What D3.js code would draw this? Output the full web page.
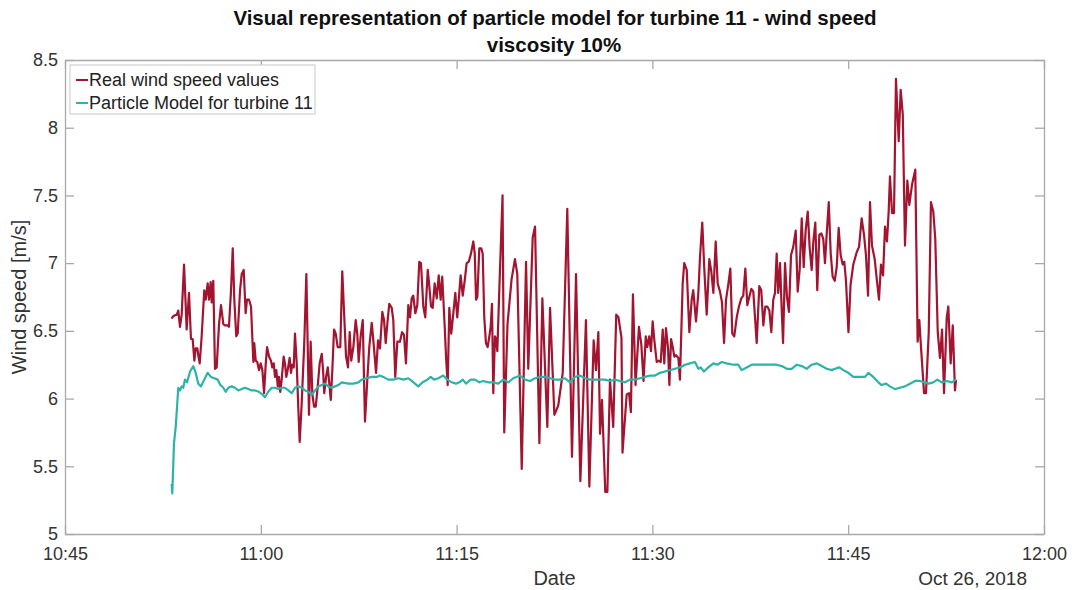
<!DOCTYPE html>
<html>
<head>
<meta charset="utf-8">
<script src="https://cdn.jsdelivr.net/npm/d3@7"></script>
<style>
  html, body { margin: 0; padding: 0; background: #fff; }
  svg { display: block; font-family: Arial, "Liberation Sans", Helvetica, sans-serif; }
</style>
</head>
<body>
<svg id="chart" width="1074" height="590"></svg>
<script>
// Measured wind speed (minutes after 10:45, m/s)
const realMinutes = [
  8.17, 8.30, 8.56, 8.68, 8.81, 8.94, 9.12, 9.32, 9.50, 9.65, 9.78, 9.91, 10.01, 10.14, 10.21, 10.32,
  10.47, 10.67, 10.78, 10.93, 11.03, 11.16, 11.24, 11.36, 11.49, 11.62, 11.80, 11.95, 12.13, 12.26, 12.46, 12.56,
  12.72, 12.85, 12.97, 13.12, 13.23, 13.41, 13.54, 13.69, 13.84, 13.94, 14.10, 14.25, 14.43, 14.50, 14.61, 14.73,
  14.86, 14.99, 15.12, 15.25, 15.38, 15.48, 15.63, 15.78, 15.88, 15.99, 16.09, 16.19, 16.30, 16.39, 16.49, 16.60,
  16.75, 16.85, 16.95, 17.06, 17.21, 17.31, 17.41, 17.52, 17.62, 17.75, 17.87, 17.98, 18.13, 18.33, 18.49, 18.59,
  18.69, 18.82, 18.95, 19.08, 19.21, 19.36, 19.51, 19.67, 19.77, 19.86, 20.00, 20.13, 20.25, 20.36, 20.48, 20.61,
  20.74, 20.89, 21.09, 21.24, 21.53, 21.68, 21.81, 21.93, 22.09, 22.27, 22.39, 22.50, 22.65, 22.81, 22.98, 23.16,
  23.31, 23.50, 23.62, 23.83, 23.98, 24.13, 24.31, 24.44, 24.57, 24.69, 24.84, 25.03, 25.15, 25.30, 25.46, 25.66,
  25.82, 25.97, 26.12, 26.30, 26.43, 26.56, 26.68, 26.84, 26.99, 27.14, 27.27, 27.45, 27.60, 27.79, 27.91, 28.04,
  28.17, 28.32, 28.48, 28.63, 28.78, 28.90, 29.09, 29.19, 29.32, 29.44, 29.59, 29.75, 29.90, 30.05, 30.18, 30.31,
  30.47, 30.62, 30.77, 30.93, 31.10, 31.28, 31.39, 31.49, 31.59, 31.74, 31.89, 32.00, 32.12, 32.25, 32.38, 32.51,
  32.61, 32.71, 32.81, 32.94, 33.02, 33.12, 33.27, 33.42, 33.52, 33.65, 33.90, 34.21, 34.47, 34.65, 34.99, 35.32,
  35.49, 35.83, 36.01, 36.34, 36.57, 36.95, 37.16, 37.49, 37.79, 38.13, 38.48, 38.84, 39.15, 39.48, 39.91, 40.17,
  40.50, 40.68, 40.86, 40.99, 41.14, 41.39, 41.55, 41.75, 42.00, 42.23, 42.40, 42.63, 42.71, 43.03, 43.21, 43.35,
  43.51, 43.71, 43.97, 44.15, 44.32, 44.49, 44.61, 44.76, 44.89, 45.02, 45.15, 45.33, 45.48, 45.64, 45.79, 45.91,
  46.04, 46.20, 46.30, 46.43, 46.56, 46.68, 46.81, 46.99, 47.11, 47.32, 47.44, 47.63, 47.83, 48.01, 48.13, 48.34,
  48.52, 48.65, 48.82, 48.98, 49.16, 49.36, 49.51, 49.67, 49.85, 50.00, 50.18, 50.33, 50.49, 50.64, 50.81, 50.97,
  51.12, 51.27, 51.46, 51.63, 51.81, 51.96, 52.12, 52.27, 52.42, 52.58, 52.73, 52.99, 53.19, 53.34, 53.50, 53.65,
  53.80, 53.96, 54.11, 54.26, 54.39, 54.52, 54.64, 54.78, 54.87, 55.01, 55.16, 55.31, 55.46, 55.62, 55.79, 55.98,
  56.13, 56.28, 56.44, 56.59, 56.74, 56.90, 57.05, 57.20, 57.33, 57.48, 57.63, 57.79, 57.94, 58.09, 58.22, 58.35,
  58.51, 58.66, 58.81, 58.97, 59.12, 59.27, 59.42, 59.58, 59.70, 59.83, 60.02, 60.18, 60.39, 60.65, 60.83, 61.03,
  61.21, 61.36, 61.52, 61.67, 61.82, 62.03, 62.18, 62.36, 62.51, 62.67, 62.82, 62.97, 63.10, 63.20, 63.36, 63.51,
  63.66, 63.87, 64.02, 64.18, 64.35, 64.53, 64.68, 64.89, 65.14, 65.32, 65.45, 65.55, 65.81, 65.96, 66.17, 66.34,
  66.52, 66.67, 66.86, 67.03, 67.19, 67.34, 67.55, 67.67, 67.85, 68.01, 68.18, 68.26
];
const realSpeed = [
  6.59, 6.61, 6.62, 6.65, 6.53, 6.62, 6.99, 6.51, 6.78, 6.44, 6.44, 6.28, 6.37, 6.37, 6.32, 6.26,
  6.46, 6.80, 6.73, 6.85, 6.73, 6.86, 6.71, 6.87, 6.22, 6.23, 6.55, 6.69, 6.55, 6.54, 6.54, 6.53,
  6.80, 7.11, 6.73, 6.46, 6.48, 6.80, 6.92, 6.95, 6.63, 6.73, 6.73, 6.68, 6.27, 6.41, 6.28, 6.27,
  6.21, 6.26, 6.21, 6.04, 6.26, 6.38, 6.31, 6.28, 6.23, 6.26, 6.16, 6.21, 6.09, 6.16, 6.05, 6.14,
  6.31, 6.26, 6.16, 6.21, 6.30, 6.19, 6.25, 6.23, 6.48, 6.26, 5.94, 5.68, 5.96, 6.41, 6.92, 6.41,
  5.88, 6.42, 6.03, 5.94, 5.94, 6.09, 6.26, 6.33, 6.21, 6.04, 6.16, 6.23, 6.11, 5.99, 6.21, 6.51,
  6.48, 6.38, 6.38, 6.94, 6.31, 6.23, 6.49, 6.28, 6.38, 6.58, 6.48, 6.27, 6.46, 6.58, 5.83, 6.14,
  6.38, 6.56, 6.43, 6.19, 6.43, 6.37, 6.64, 6.58, 6.41, 6.55, 6.70, 6.67, 6.58, 6.16, 6.42, 6.42,
  6.49, 6.47, 6.26, 6.69, 6.60, 6.74, 6.76, 6.63, 6.69, 7.01, 7.00, 6.68, 6.60, 6.95, 6.83, 6.68,
  6.67, 6.85, 6.74, 6.91, 6.73, 6.90, 6.53, 6.31, 6.10, 6.67, 6.48, 6.63, 6.78, 6.60, 6.75, 6.91,
  6.76, 6.87, 7.00, 7.01, 7.07, 7.16, 7.07, 6.73, 6.75, 7.11, 7.11, 7.07, 6.60, 6.41, 6.38, 6.46,
  6.53, 6.70, 6.04, 6.46, 6.44, 6.35, 6.80, 7.22, 7.50, 5.75, 6.55, 6.88, 7.03, 6.92, 5.48, 7.01,
  6.22, 7.19, 7.27, 5.67, 6.74, 5.79, 6.67, 5.88, 5.95, 6.19, 7.40, 5.57, 6.92, 5.39, 6.58, 5.35,
  6.43, 6.21, 6.49, 5.74, 5.99, 5.31, 5.31, 6.14, 5.79, 6.62, 6.60, 6.45, 5.60, 6.03, 6.04, 5.90,
  6.77, 6.10, 6.53, 6.40, 6.13, 6.46, 6.38, 6.46, 6.35, 6.57, 6.43, 6.27, 6.28, 6.27, 6.51, 6.26,
  6.52, 6.37, 6.10, 6.44, 6.38, 6.31, 6.32, 6.30, 6.14, 6.85, 7.00, 6.95, 6.49, 6.73, 6.80, 6.57,
  6.78, 7.05, 7.30, 6.95, 6.62, 7.03, 6.94, 6.78, 7.16, 6.85, 6.79, 6.71, 6.41, 6.73, 6.84, 6.96,
  6.48, 6.46, 6.60, 6.68, 6.74, 6.76, 6.96, 6.69, 6.75, 6.81, 6.79, 6.41, 6.83, 6.80, 6.54, 6.68,
  6.68, 6.65, 6.49, 6.73, 6.78, 7.07, 6.78, 7.00, 6.75, 6.41, 7.00, 6.75, 6.64, 7.06, 7.12, 7.24,
  6.79, 6.95, 7.33, 6.97, 7.24, 7.38, 7.11, 6.95, 7.16, 7.30, 6.80, 7.21, 7.22, 7.18, 7.00, 7.21,
  7.45, 7.07, 6.90, 6.87, 6.97, 7.26, 7.06, 6.99, 7.01, 6.87, 6.49, 6.84, 6.99, 7.08, 7.12, 7.33,
  7.21, 7.06, 6.76, 7.45, 7.13, 7.03, 6.89, 6.73, 6.99, 6.91, 7.27, 7.16, 7.38, 7.64, 7.37, 7.37,
  8.36, 7.90, 8.28, 8.10, 7.13, 7.61, 7.43, 7.58, 7.69, 6.42, 6.58, 6.42, 6.04, 6.04, 6.49, 7.45,
  7.38, 7.18, 6.49, 6.30, 6.51, 6.04, 6.60, 6.68, 6.26, 6.54, 6.06, 6.14
];

// Particle model output (minutes after 10:45, m/s)
const modelMinutes = [
  8.17, 8.22, 8.35, 8.48, 8.68, 8.81, 8.94, 9.06, 9.19, 9.35, 9.58, 9.83, 10.01, 10.21, 10.42, 10.67,
  10.93, 11.18, 11.44, 11.70, 11.90, 12.13, 12.31, 12.51, 12.77, 13.02, 13.28, 13.54, 13.79, 14.04, 14.30, 14.56,
  14.86, 15.12, 15.32, 15.57, 15.84, 16.09, 16.34, 16.60, 16.85, 17.11, 17.37, 17.62, 17.87, 18.13, 18.39, 18.64,
  18.90, 19.15, 19.41, 19.67, 19.92, 20.17, 20.43, 20.68, 20.94, 21.20, 21.71, 22.09, 22.47, 22.73, 23.11, 23.50,
  23.88, 24.13, 24.38, 24.77, 25.15, 25.53, 25.92, 26.30, 26.56, 26.81, 27.07, 27.40, 27.76, 28.02, 28.27, 28.60,
  28.98, 29.29, 29.62, 29.95, 30.21, 30.47, 30.72, 31.08, 31.41, 31.74, 32.05, 32.43, 32.81, 33.19, 33.58, 33.96,
  34.34, 34.86, 35.24, 35.62, 36.01, 36.39, 36.77, 37.16, 37.54, 37.92, 38.30, 38.69, 39.07, 39.45, 39.84, 40.22,
  40.60, 40.99, 41.37, 41.75, 42.13, 42.52, 42.90, 43.28, 43.67, 44.05, 44.43, 44.81, 45.20, 45.58, 45.96, 46.35,
  46.73, 47.11, 47.49, 47.88, 48.26, 48.52, 48.70, 48.95, 49.28, 49.67, 49.97, 50.31, 50.69, 51.20, 51.58, 51.84,
  52.22, 52.61, 52.99, 53.37, 53.76, 54.14, 54.52, 54.91, 55.29, 55.67, 56.06, 56.44, 56.82, 57.20, 57.59, 57.97,
  58.35, 58.74, 58.99, 59.32, 59.63, 60.01, 60.39, 60.60, 61.03, 61.29, 61.54, 61.92, 62.31, 62.56, 62.90, 63.20,
  63.58, 63.97, 64.35, 64.73, 65.12, 65.50, 65.81, 66.14, 66.52, 66.83, 67.16, 67.55, 67.93, 68.26
];
const modelSpeed = [
  5.37, 5.30, 5.67, 5.79, 6.08, 6.06, 6.09, 6.08, 6.14, 6.12, 6.20, 6.24, 6.19, 6.11, 6.09, 6.14,
  6.19, 6.16, 6.15, 6.14, 6.10, 6.08, 6.05, 6.08, 6.09, 6.08, 6.06, 6.07, 6.08, 6.07, 6.06, 6.06,
  6.05, 6.03, 6.01, 6.05, 6.08, 6.08, 6.07, 6.08, 6.08, 6.06, 6.04, 6.08, 6.09, 6.08, 6.06, 6.05,
  6.03, 6.06, 6.09, 6.10, 6.11, 6.09, 6.08, 6.09, 6.10, 6.12, 6.11, 6.11, 6.12, 6.14, 6.15, 6.16,
  6.16, 6.17, 6.16, 6.14, 6.14, 6.15, 6.14, 6.15, 6.13, 6.11, 6.09, 6.12, 6.14, 6.16, 6.14, 6.15,
  6.17, 6.14, 6.12, 6.11, 6.12, 6.14, 6.11, 6.14, 6.14, 6.12, 6.13, 6.12, 6.12, 6.11, 6.14, 6.12,
  6.15, 6.17, 6.14, 6.13, 6.15, 6.16, 6.16, 6.15, 6.14, 6.14, 6.15, 6.12, 6.16, 6.17, 6.15, 6.14,
  6.14, 6.14, 6.14, 6.13, 6.14, 6.13, 6.12, 6.14, 6.14, 6.15, 6.16, 6.17, 6.17, 6.19, 6.20, 6.21,
  6.22, 6.23, 6.25, 6.26, 6.27, 6.22, 6.23, 6.20, 6.23, 6.26, 6.25, 6.27, 6.26, 6.25, 6.25, 6.21,
  6.23, 6.25, 6.25, 6.25, 6.25, 6.25, 6.25, 6.24, 6.22, 6.22, 6.25, 6.24, 6.22, 6.25, 6.26, 6.24,
  6.22, 6.21, 6.22, 6.23, 6.21, 6.19, 6.16, 6.16, 6.16, 6.16, 6.19, 6.16, 6.12, 6.10, 6.11, 6.09,
  6.07, 6.08, 6.09, 6.11, 6.13, 6.13, 6.12, 6.11, 6.12, 6.14, 6.12, 6.13, 6.12, 6.14
];

const xTickLabels = ["10:45", "11:00", "11:15", "11:30", "11:45", "12:00"];
const yTickValues = [5, 5.5, 6, 6.5, 7, 7.5, 8, 8.5];
const seriesNames = ["Real wind speed values", "Particle Model for turbine 11"];
const seriesColors = ["#a2142f", "#2db3a6"];
const titleLines = ["Visual representation of particle model for turbine 11 - wind speed", "viscosity 10%"];

const day0 = new Date(2018, 9, 26, 10, 45, 0);
const toDate = m => new Date(day0.getTime() + m * 60000);
const clock = s => { const [h, mi] = s.split(":").map(Number); return new Date(2018, 9, 26, h, mi, 0); };

const svg = d3.select("#chart");
const margin = { left: 65, right: 30, top: 60, bottom: 56 };
const W = 1074, H = 590;
const innerW = W - margin.left - margin.right;
const innerH = H - margin.top - margin.bottom;

const x = d3.scaleTime()
  .domain([clock(xTickLabels[0]), clock(xTickLabels[xTickLabels.length - 1])])
  .range([margin.left, margin.left + innerW]);
const y = d3.scaleLinear()
  .domain([yTickValues[0], yTickValues[yTickValues.length - 1]])
  .range([margin.top + innerH, margin.top]);

const axisColor = "#a8a8a8";
const textColor = "#333333";
const tickLen = 9;
const xTicks = xTickLabels.map(clock);

// Axes with inward ticks on all four sides
const bottomAxis = d3.axisBottom(x).tickValues(xTicks).tickFormat(d3.timeFormat("%H:%M"))
  .tickSizeInner(-tickLen).tickSizeOuter(0).tickPadding(13);
const topAxis = d3.axisTop(x).tickValues(xTicks).tickFormat("").tickSizeInner(-tickLen).tickSizeOuter(0);
const leftAxis = d3.axisLeft(y).tickValues(yTickValues).tickFormat(d => String(d))
  .tickSizeInner(-tickLen).tickSizeOuter(0).tickPadding(7);
const rightAxis = d3.axisRight(y).tickValues(yTickValues).tickFormat("").tickSizeInner(-tickLen).tickSizeOuter(0);

function styleAxis(g) {
  g.select(".domain").attr("stroke", axisColor).attr("stroke-width", 1.3);
  g.selectAll(".tick line").attr("stroke", axisColor).attr("stroke-width", 1.3);
  g.selectAll(".tick text").attr("fill", textColor).style("font-size", "18px");
}

svg.append("g").attr("transform", `translate(0,${margin.top + innerH})`).call(bottomAxis).call(styleAxis);
svg.append("g").attr("transform", `translate(0,${margin.top})`).call(topAxis).call(styleAxis);
svg.append("g").attr("transform", `translate(${margin.left},0)`).call(leftAxis).call(styleAxis);
svg.append("g").attr("transform", `translate(${margin.left + innerW},0)`).call(rightAxis).call(styleAxis);

// Series lines
const line = d3.line().x(d => x(d.t)).y(d => y(d.v));
const realData = realMinutes.map((m, i) => ({ t: toDate(m), v: realSpeed[i] }));
const modelData = modelMinutes.map((m, i) => ({ t: toDate(m), v: modelSpeed[i] }));

svg.append("path").datum(realData).attr("d", line)
  .attr("fill", "none").attr("stroke", seriesColors[0]).attr("stroke-width", 2.2).attr("stroke-linejoin", "round");
svg.append("path").datum(modelData).attr("d", line)
  .attr("fill", "none").attr("stroke", seriesColors[1]).attr("stroke-width", 2.2).attr("stroke-linejoin", "round");

// Title
svg.append("text").attr("x", 555).attr("y", 25).attr("text-anchor", "middle")
  .attr("font-weight", "bold").attr("fill", "#111").style("font-size", "20.5px").text(titleLines[0]);
svg.append("text").attr("x", 554).attr("y", 52).attr("text-anchor", "middle")
  .attr("font-weight", "bold").attr("fill", "#111").style("font-size", "20.5px").text(titleLines[1]);

// Axis labels
svg.append("text").attr("x", margin.left + innerW / 2).attr("y", 585).attr("text-anchor", "middle")
  .attr("fill", textColor).style("font-size", "20px").text("Date");
svg.append("text").attr("x", margin.left + innerW - 17).attr("y", 585).attr("text-anchor", "end")
  .attr("fill", textColor).style("font-size", "19px").text("Oct 26, 2018");
svg.append("text").attr("transform", `translate(26,${margin.top + innerH / 2}) rotate(-90)`)
  .attr("text-anchor", "middle").attr("fill", textColor).style("font-size", "20px").text("Wind speed [m/s]");

// Legend
const lg = svg.append("g").attr("transform", "translate(70,65)");
lg.append("rect").attr("width", 245).attr("height", 49).attr("fill", "#fff")
  .attr("stroke", "#c8c8c8").attr("stroke-width", 1);
seriesNames.forEach((name, i) => {
  const cy = 15 + i * 23;
  lg.append("line").attr("x1", 6).attr("x2", 18).attr("y1", cy).attr("y2", cy)
    .attr("stroke", seriesColors[i]).attr("stroke-width", 2);
  lg.append("text").attr("x", 19).attr("y", cy + 6).attr("fill", "#222").style("font-size", "18px").text(name);
});
</script>
</body>
</html>
